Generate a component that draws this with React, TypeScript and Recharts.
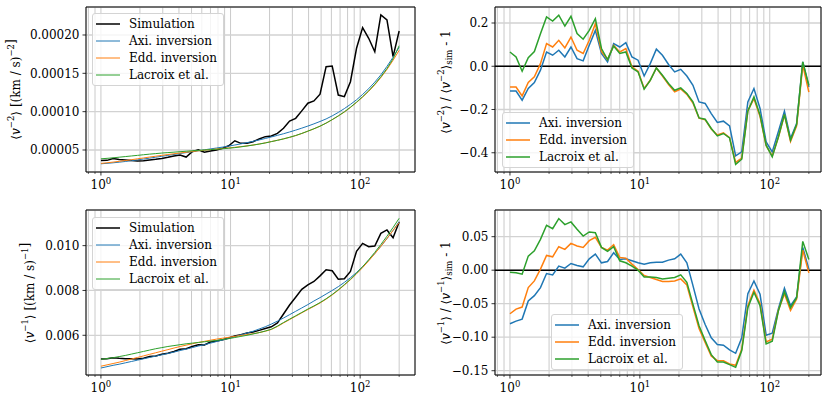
import React from 'react';
import { LineChart, Line, XAxis, YAxis, CartesianGrid, ReferenceLine, ReferenceArea, Legend } from 'recharts';

const FONT = '"DejaVu Serif", "Liberation Serif", serif';
const BLUE = '#1f77b4';
const ORANGE = '#ff7f0e';
const GREEN = '#2ca02c';

// radius grid (log spaced, 1 .. 200)
const radius = [
  1.0, 1.114, 1.241, 1.383, 1.541, 1.717, 1.913, 2.131, 2.375, 2.646,
  2.948, 3.285, 3.66, 4.078, 4.543, 5.062, 5.64, 6.284, 7.002, 7.801,
  8.692, 9.685, 10.79, 12.02, 13.4, 14.92, 16.63, 18.53, 20.64, 23.0,
  25.63, 28.55, 31.81, 35.45, 39.49, 44.0, 49.03, 54.62, 60.86, 67.81,
  75.55, 84.17, 93.79, 104.5, 116.4, 129.7, 144.5, 161.0, 179.5, 200.0,
];
const xTicks = [0.8, 0.9, 1, 2, 3, 4, 5, 6, 7, 8, 9, 10, 20, 30, 40, 50, 60, 70, 80, 90, 100, 200];

// <v^-2> in units of 1e-5 (km/s)^-2
const simV2 = [
  3.62, 3.65, 3.88, 3.75, 3.7, 3.62, 3.55, 3.6, 3.7, 3.78,
  3.9, 4.05, 4.22, 4.35, 4.08, 4.78, 5.02, 4.72, 4.88, 5.0,
  5.22, 5.55, 6.2, 5.87, 5.88, 6.08, 6.43, 6.74, 6.83, 7.17,
  7.83, 8.78, 9.13, 10.1, 11.1, 11.4, 12.27, 15.87, 15.96, 12.17,
  11.96, 13.91, 18.27, 20.96, 19.57, 17.82, 22.61, 21.96, 17.17, 20.52,
];
const axiV2 = [
  3.2, 3.26, 3.33, 3.41, 3.5, 3.6, 3.71, 3.82, 3.94, 4.06,
  4.18, 4.3, 4.42, 4.54, 4.66, 4.78, 4.9, 5.02, 5.14, 5.26,
  5.38, 5.51, 5.65, 5.8, 5.96, 6.13, 6.31, 6.5, 6.7, 6.91,
  7.12, 7.35, 7.59, 7.85, 8.12, 8.41, 8.72, 9.05, 9.45, 9.9,
  10.4, 10.95, 11.55, 12.25, 13.0, 13.85, 14.8, 15.9, 17.1, 18.4,
];
const eddV2 = [
  3.25, 3.33, 3.42, 3.52, 3.62, 3.73, 3.85, 3.96, 4.08, 4.19,
  4.3, 4.41, 4.51, 4.61, 4.71, 4.8, 4.89, 4.97, 5.05, 5.13,
  5.2, 5.27, 5.35, 5.44, 5.54, 5.65, 5.78, 5.93, 6.1, 6.27,
  6.45, 6.65, 6.88, 7.15, 7.45, 7.76, 8.1, 8.5, 8.95, 9.43,
  9.95, 10.55, 11.2, 11.9, 12.65, 13.5, 14.45, 15.5, 16.7, 18.0,
];
const lacV2 = [
  3.85, 3.91, 3.98, 4.06, 4.14, 4.22, 4.3, 4.38, 4.46, 4.53,
  4.6, 4.66, 4.72, 4.78, 4.84, 4.9, 4.95, 5.0, 5.05, 5.1,
  5.16, 5.23, 5.31, 5.41, 5.52, 5.64, 5.77, 5.92, 6.09, 6.26,
  6.45, 6.66, 6.89, 7.16, 7.46, 7.77, 8.11, 8.51, 8.96, 9.45,
  9.98, 10.58, 11.24, 11.95, 12.72, 13.58, 14.55, 15.62, 16.9, 18.6,
];

// <v^-2> / <v^-2>_sim - 1
const axiR2 = [
  -0.115, -0.115, -0.157, -0.103, -0.075, -0.018, 0.066, 0.051, 0.074, 0.043,
  0.089, 0.035, 0.025, 0.097, 0.166, 0.059, 0.02, 0.105, 0.089, 0.109,
  0.043, 0.028, -0.045, 0.012, 0.079, 0.051, 0.008, -0.026, -0.014, -0.045,
  -0.088, -0.165, -0.172, -0.219, -0.26, -0.254, -0.276, -0.414, -0.396, -0.165,
  -0.103, -0.195, -0.35, -0.396, -0.303, -0.208, -0.334, -0.265, 0.02, -0.096,
];
const eddR2 = [
  -0.096, -0.096, -0.137, -0.075, -0.049, 0.012, 0.105, 0.089, 0.12, 0.085,
  0.135, 0.074, 0.059, 0.12, 0.197, 0.069, 0.031, 0.097, 0.066, 0.082,
  -0.003, -0.023, -0.103, -0.065, -0.008, -0.045, -0.085, -0.118, -0.105, -0.13,
  -0.17, -0.24, -0.247, -0.29, -0.318, -0.308, -0.33, -0.445, -0.425, -0.205,
  -0.15, -0.232, -0.368, -0.415, -0.33, -0.225, -0.348, -0.275, 0.005, -0.12,
];
const lacR2 = [
  0.066, 0.043, -0.023, 0.04, 0.068, 0.15, 0.228, 0.209, 0.236, 0.186,
  0.231, 0.151, 0.125, 0.166, 0.22, 0.082, 0.031, 0.094, 0.059, 0.066,
  -0.008, -0.026, -0.106, -0.065, -0.008, -0.042, -0.08, -0.111, -0.1, -0.126,
  -0.165, -0.239, -0.245, -0.288, -0.322, -0.311, -0.331, -0.454, -0.43, -0.208,
  -0.142, -0.226, -0.365, -0.419, -0.327, -0.223, -0.342, -0.269, 0.02, -0.088,
];

// <v^-1> in units of 1e-3 (km/s)^-1
const simV1 = [
  4.94, 4.95, 5.0, 4.97, 4.95, 4.95, 4.94, 4.98, 5.05, 5.08,
  5.15, 5.2, 5.28, 5.38, 5.4, 5.5, 5.58, 5.57, 5.7, 5.75,
  5.8, 5.88, 5.97, 6.03, 6.1, 6.15, 6.22, 6.3, 6.38, 6.55,
  6.95, 7.35, 7.7, 8.05, 8.25, 8.4, 8.65, 8.92, 8.88, 8.5,
  8.52, 8.85, 9.75, 10.1, 9.95, 9.98, 10.55, 10.7, 10.35, 11.05,
];
const axiV1 = [
  4.54, 4.6, 4.66, 4.71, 4.77, 4.83, 4.89, 4.95, 5.01, 5.07,
  5.13, 5.19, 5.25, 5.32, 5.38, 5.45, 5.52, 5.58, 5.65, 5.72,
  5.79, 5.87, 5.94, 6.02, 6.1, 6.18, 6.28, 6.38, 6.5, 6.63,
  6.77, 6.92, 7.07, 7.22, 7.37, 7.53, 7.68, 7.84, 8.0, 8.17,
  8.36, 8.57, 8.8, 9.06, 9.35, 9.65, 9.97, 10.31, 10.68, 11.07,
];
const eddV1 = [
  4.62, 4.68, 4.74, 4.8, 4.87, 4.94, 5.01, 5.08, 5.15, 5.22,
  5.29, 5.36, 5.43, 5.5, 5.56, 5.62, 5.68, 5.73, 5.78, 5.83,
  5.87, 5.91, 5.95, 5.99, 6.03, 6.07, 6.12, 6.18, 6.26, 6.39,
  6.55, 6.7, 6.85, 7.0, 7.15, 7.29, 7.44, 7.61, 7.8, 8.01,
  8.24, 8.48, 8.74, 9.02, 9.32, 9.64, 9.97, 10.32, 10.68, 11.03,
];
const lacV1 = [
  4.93, 4.96, 5.0, 5.05, 5.1, 5.16, 5.22, 5.28, 5.34, 5.4,
  5.45, 5.5, 5.54, 5.58, 5.62, 5.65, 5.68, 5.71, 5.74, 5.77,
  5.81, 5.85, 5.9, 5.95, 6.0, 6.06, 6.12, 6.19, 6.27, 6.41,
  6.57, 6.72, 6.87, 7.02, 7.17, 7.31, 7.46, 7.63, 7.82, 8.03,
  8.26, 8.5, 8.77, 9.06, 9.37, 9.7, 10.05, 10.42, 10.81, 11.22,
];

// <v^-1> / <v^-1>_sim - 1
const axiR1 = [
  -0.08, -0.076, -0.073, -0.046, -0.038, -0.026, -0.005, -0.007, 0.006, 0.003,
  0.01, 0.007, 0.005, 0.017, 0.024, 0.011, 0.013, 0.026, 0.016, 0.017,
  0.014, 0.011, 0.009, 0.011, 0.012, 0.012, 0.015, 0.017, 0.024, 0.011,
  -0.023, -0.058, -0.081, -0.101, -0.111, -0.112, -0.119, -0.124, -0.101, -0.035,
  -0.016, -0.036, -0.097, -0.094, -0.058, -0.027, -0.053, -0.04, 0.034, 0.0015,
];
const eddR1 = [
  -0.065, -0.058, -0.055, -0.026, -0.016, 0.0015, 0.022, 0.02, 0.035, 0.031,
  0.04, 0.036, 0.034, 0.044, 0.049, 0.034, 0.03, 0.038, 0.019, 0.018,
  0.009, 0.001, -0.008, -0.011, -0.014, -0.017, -0.017, -0.016, -0.013, -0.022,
  -0.055, -0.087, -0.108, -0.128, -0.135, -0.135, -0.14, -0.142, -0.118, -0.053,
  -0.03, -0.05, -0.107, -0.103, -0.06, -0.035, -0.06, -0.043, 0.03, -0.004,
];
const lacR1 = [
  -0.003, -0.004, -0.006, 0.021, 0.029, 0.046, 0.067, 0.062, 0.077, 0.068,
  0.072, 0.061, 0.051, 0.057, 0.056, 0.034, 0.028, 0.035, 0.014, 0.011,
  0.006, 0.0, -0.01, -0.01, -0.011, -0.013, -0.012, -0.011, -0.007, -0.018,
  -0.051, -0.083, -0.105, -0.126, -0.137, -0.137, -0.141, -0.145, -0.12, -0.056,
  -0.033, -0.053, -0.11, -0.106, -0.061, -0.032, -0.056, -0.041, 0.043, 0.016,
];

const toRows = (cols: Record<string, number[]>, scale = 1) =>
  radius.map((x, i) => {
    const row: any = { x };
    for (const k of Object.keys(cols)) row[k] = cols[k][i] * scale;
    return row;
  });

const dataV2 = toRows({ sim: simV2, axi: axiV2, edd: eddV2, lac: lacV2 }, 1e-5);
const dataR2 = toRows({ axi: axiR2, edd: eddR2, lac: lacR2 });
const dataV1 = toRows({ sim: simV1, axi: axiV1, edd: eddV1, lac: lacV1 }, 1e-3);
const dataR1 = toRows({ axi: axiR1, edd: eddR1, lac: lacR1 });

type Series = { key: string; name: string; color: string; width: number };

const modelSeries: Series[] = [
  { key: 'sim', name: 'Simulation', color: '#000', width: 1.5 },
  { key: 'axi', name: 'Axi. inversion', color: BLUE, width: 1 },
  { key: 'edd', name: 'Edd. inversion', color: ORANGE, width: 1 },
  { key: 'lac', name: 'Lacroix et al.', color: GREEN, width: 1 },
];
const ratioSeries: Series[] = [
  { key: 'axi', name: 'Axi. inversion', color: BLUE, width: 1.5 },
  { key: 'edd', name: 'Edd. inversion', color: ORANGE, width: 1.5 },
  { key: 'lac', name: 'Lacroix et al.', color: GREEN, width: 1.5 },
];

const minus = (s: string) => s.replace('-', '\u2212');

const XTick = (props: any) => {
  const { x, y, payload } = props;
  const lg = Math.log10(payload.value);
  const exp = Math.round(lg);
  const major = Math.abs(lg - exp) < 1e-6;
  return (
    <g>
      <line x1={x} x2={x} y1={y} y2={y + (major ? 3.5 : 2)} stroke="#000" strokeWidth={major ? 0.8 : 0.6} />
      {major && (
        <text x={x} y={y + 16.5} textAnchor="middle" fontSize={12} fill="#000">
          10<tspan dy={-5} fontSize={8.5}>{exp}</tspan>
        </text>
      )}
    </g>
  );
};

const makeLegend = (series: Series[]) => () => (
  <div
    style={{
      background: 'rgba(255,255,255,0.8)',
      border: '1px solid #d4d4d4',
      borderRadius: 3,
      padding: '1.5px 6px 1.5px 3px',
      fontFamily: FONT,
      fontSize: 12,
      color: '#000',
      whiteSpace: 'nowrap',
    }}
  >
    {series.map((s) => (
      <div key={s.key} style={{ display: 'flex', alignItems: 'center', height: 17 }}>
        <svg width={24} height={6} style={{ display: 'block' }}>
          <line x1={0} x2={24} y1={3} y2={3} stroke={s.color} strokeWidth={s.width} />
        </svg>
        <span style={{ marginLeft: 9 }}>{s.name}</span>
      </div>
    ))}
  </div>
);

const Sup = ({ t }: { t: string }) => (
  <>
    <tspan dy={-5} fontSize={8.5}>{t}</tspan>
    <tspan dy={5} />
  </>
);

const Bracket = ({ n }: { n: string }) => (
  <>
    {'\u27E8'}
    <tspan fontStyle="italic">v</tspan>
    <tspan dy={-5} fontSize={8.5}>{'\u2212' + n}</tspan>
    <tspan dy={5}>{'\u27E9'}</tspan>
  </>
);

const unitLabel = (n: string) => (
  <>
    <Bracket n={n} />
    {' [(km / s)'}
    <Sup t={'\u2212' + n} />
    {']'}
  </>
);

const ratioLabel = (n: string) => (
  <>
    <Bracket n={n} />
    {' / '}
    <Bracket n={n} />
    <tspan dy={3} fontSize={8.5}>sim</tspan>
    <tspan dy={-3}>{' - 1'}</tspan>
  </>
);

type PanelProps = {
  left: number;
  top: number;
  width: number;
  height: number;
  marginTop: number;
  marginRight: number;
  yWidth: number;
  data: any[];
  series: Series[];
  xDomain: [number, number];
  yDomain: [number, number];
  yTicks: number[];
  digits: number;
  legendPos: { left: number; top: number };
  label: React.ReactNode;
  labelPos: { x: number; y: number };
  zero?: boolean;
};

function Panel(p: PanelProps) {
  return (
    <div style={{ position: 'absolute', left: p.left, top: p.top, width: p.width, height: p.height }}>
      <LineChart
        width={p.width}
        height={p.height}
        data={p.data}
        margin={{ top: p.marginTop, right: p.marginRight, bottom: 0, left: 0 }}
      >
        <CartesianGrid horizontal={false} stroke="#bdbdbd" strokeWidth={0.8} />
        <CartesianGrid vertical={false} stroke="#d2d2d2" strokeWidth={1.3} />
        <XAxis
          dataKey="x"
          type="number"
          scale="log"
          domain={p.xDomain}
          allowDataOverflow
          ticks={xTicks}
          interval={0}
          tick={<XTick />}
          tickLine={false}
          axisLine={false}
          tickSize={0}
          tickMargin={0}
          height={p.height - p.marginTop - 165}
        />
        <YAxis
          type="number"
          domain={p.yDomain}
          allowDataOverflow
          ticks={p.yTicks}
          interval={0}
          tickFormatter={(v: number) => minus(v.toFixed(p.digits))}
          width={p.yWidth}
          tick={{ fontSize: 12, fill: '#000' }}
          tickSize={3.5}
          tickMargin={3}
          tickLine={{ stroke: '#000', strokeWidth: 0.8 }}
          axisLine={false}
        />
        {p.zero && <ReferenceLine y={0} stroke="#000" strokeWidth={1.5} />}
        {p.series.map((s) => (
          <Line
            key={s.key}
            type="linear"
            dataKey={s.key}
            name={s.name}
            stroke={s.color}
            strokeWidth={s.width}
            dot={false}
            activeDot={false}
            isAnimationActive={false}
          />
        ))}
        <ReferenceArea
          x1={p.xDomain[0]}
          x2={p.xDomain[1]}
          y1={p.yDomain[0]}
          y2={p.yDomain[1]}
          fill="none"
          fillOpacity={0}
          stroke="#000"
          strokeWidth={1}
        />
        <Legend
          layout="vertical"
          align="center"
          verticalAlign="middle"
          content={makeLegend(p.series)}
          wrapperStyle={{ left: p.legendPos.left, top: p.legendPos.top, width: 'auto' }}
        />
      </LineChart>
      <svg
        width={p.width}
        height={p.height}
        style={{ position: 'absolute', left: 0, top: 0, pointerEvents: 'none', overflow: 'visible' }}
      >
        <text
          transform={`translate(${p.labelPos.x},${p.labelPos.y}) rotate(-90)`}
          textAnchor="middle"
          dominantBaseline="central"
          fontSize={12}
          fill="#000"
        >
          {p.label}
        </text>
      </svg>
    </div>
  );
}

export default function App() {
  return (
    <div
      style={{
        position: 'absolute',
        left: 0,
        top: 0,
        width: 822,
        height: 394,
        background: '#fff',
        fontFamily: FONT,
        overflow: 'hidden',
      }}
    >
      <Panel
        left={0}
        top={0}
        width={420}
        height={195}
        marginTop={7}
        marginRight={5}
        yWidth={86}
        data={dataV2}
        series={modelSeries}
        xDomain={[0.767, 265]}
        yDomain={[0.0000213, 0.0002365]}
        yTicks={[0.00005, 0.0001, 0.00015, 0.0002]}
        digits={5}
        legendPos={{ left: 92, top: 13 }}
        label={unitLabel('2')}
        labelPos={{ x: 16, y: 89.5 }}
      />
      <Panel
        left={410}
        top={0}
        width={412}
        height={195}
        marginTop={7}
        marginRight={1}
        yWidth={85}
        data={dataR2}
        series={ratioSeries}
        xDomain={[0.767, 248]}
        yDomain={[-0.489, 0.274]}
        yTicks={[-0.4, -0.2, 0, 0.2]}
        digits={1}
        legendPos={{ left: 92, top: 112 }}
        label={ratioLabel('2')}
        labelPos={{ x: 36, y: 82 }}
        zero
      />
      <Panel
        left={0}
        top={195}
        width={420}
        height={199}
        marginTop={15}
        marginRight={5}
        yWidth={86}
        data={dataV1}
        series={modelSeries}
        xDomain={[0.767, 265]}
        yDomain={[0.004228, 0.01159]}
        yTicks={[0.006, 0.008, 0.01]}
        digits={3}
        legendPos={{ left: 92, top: 22 }}
        label={unitLabel('1')}
        labelPos={{ x: 30, y: 98 }}
      />
      <Panel
        left={410}
        top={195}
        width={412}
        height={199}
        marginTop={15}
        marginRight={1}
        yWidth={85}
        data={dataR1}
        series={ratioSeries}
        xDomain={[0.767, 248]}
        yDomain={[-0.1564, 0.0898]}
        yTicks={[-0.15, -0.1, -0.05, 0, 0.05]}
        digits={2}
        legendPos={{ left: 141, top: 119 }}
        label={ratioLabel('1')}
        labelPos={{ x: 36, y: 98 }}
        zero
      />
    </div>
  );
}
